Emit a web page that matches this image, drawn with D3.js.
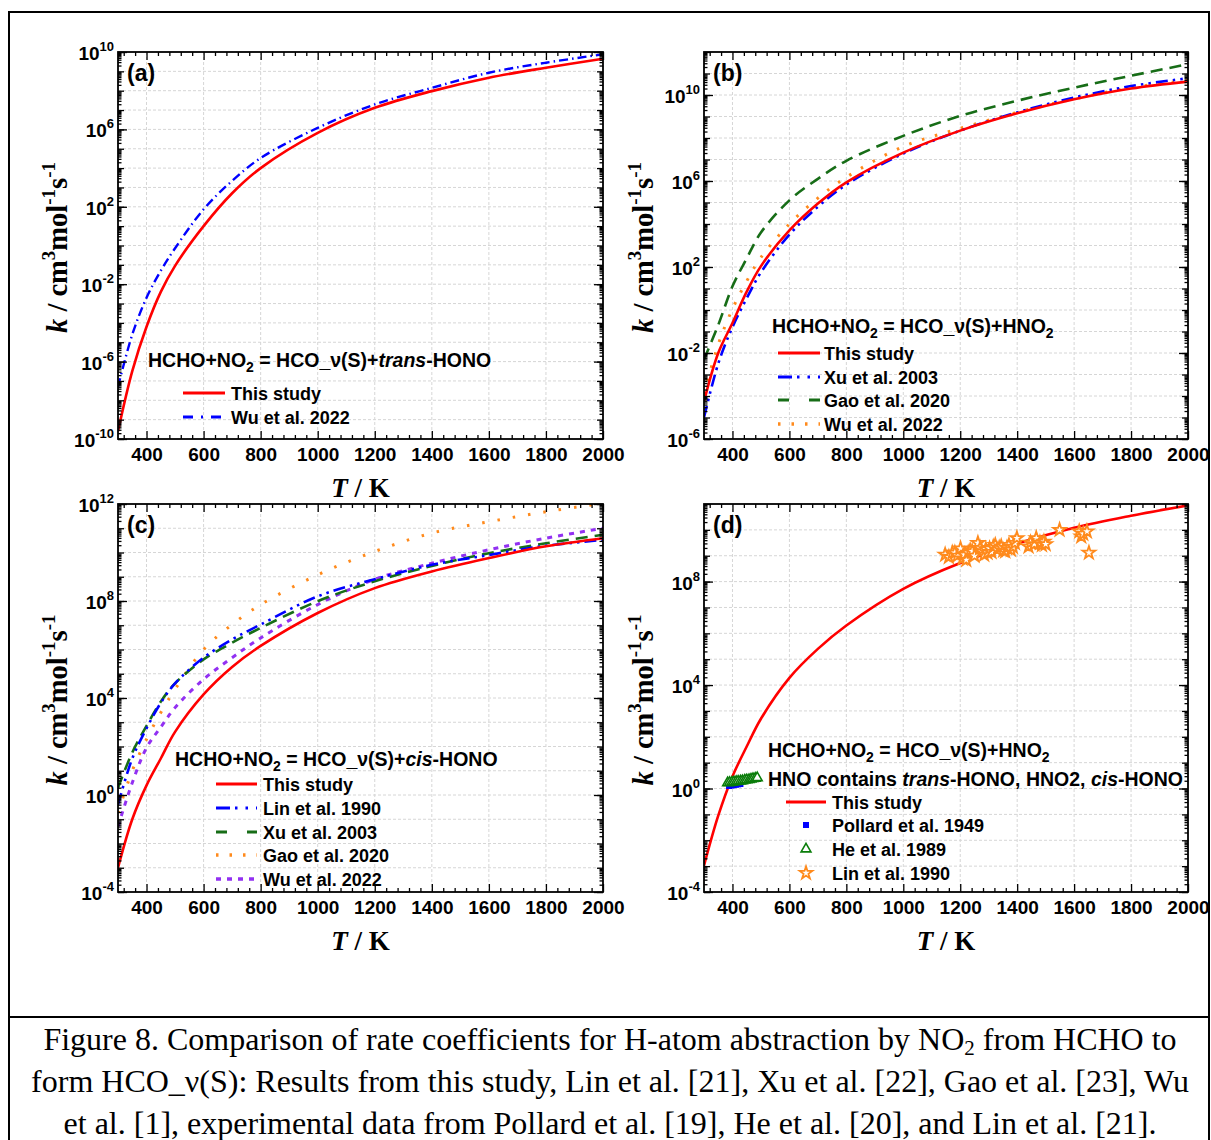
<!DOCTYPE html>
<html>
<head>
<meta charset="utf-8">
<script src="https://cdn.jsdelivr.net/npm/d3@7"></script>
<style>
  html, body { margin: 0; padding: 0; background: #fff; }
  svg { display: block; }
</style>
</head>
<body>
<svg id="fig" width="1211" height="1140"></svg>
<script>
// ---------------- data: k in cm^3 mol^-1 s^-1 versus T / K ----------------
const temps = [300, 350, 400, 450, 500, 600, 700, 800, 1000, 1200, 1400, 1600, 1800, 2000];

// (a) HCHO + NO2 -> HCO_v(S) + trans-HONO
const transThisStudy = [2.5e-10, 3.2e-7, 6.3e-5, 4.0e-3, 8.9e-2, 10, 5.0e2, 1.0e4, 6.6e5, 1.3e7, 9.5e7, 4.7e8, 1.55e9, 4.5e9];
const transWu2022    = [5.0e-8, 2.5e-5, 2.0e-3, 5.0e-2, 0.72, 74, 2.2e3, 3.3e4, 1.2e6, 1.95e7, 1.4e8, 8.5e8, 2.8e9, 7.6e9];

// (b) HCHO + NO2 -> HCO_v(S) + HNO2
const hno2ThisStudy = [5.6e-5, 1.0e-2, 0.25, 7.1, 1.1e2, 5.0e3, 8.9e4, 8.7e5, 2.1e7, 2.2e8, 1.4e9, 6.3e9, 2.0e10, 4.2e10];
const hno2Xu2003    = [1.0e-5, 3.2e-3, 0.16, 3.5, 56, 3.2e3, 6.3e4, 6.8e5, 1.9e7, 2.2e8, 1.55e9, 7.6e9, 2.6e10, 6.0e10];
const hno2Gao2020   = [5.0e-3, 0.2, 12.6, 2.5e2, 4.0e3, 1.26e5, 1.26e6, 8.7e6, 1.26e8, 1.07e9, 5.4e9, 2.2e10, 7.9e10, 2.7e11];
const hno2Wu2022    = [1.26e-4, 2.5e-2, 1.12, 22, 2.8e2, 1.0e4, 1.6e5, 1.5e6, 4.0e7, 2.8e8, 1.55e9, 6.6e9, 2.2e10, 4.8e10];

// (c) HCHO + NO2 -> HCO_v(S) + cis-HONO
const cisThisStudy = [1.0e-3, 0.1, 2.5, 32, 4.0e2, 1.4e4, 1.9e5, 1.4e6, 3.2e7, 3.4e8, 1.66e9, 5.9e9, 1.8e10, 3.9e10];
const cisLin1990   = [0.4, 32, 5.6e2, 6.3e3, 4.0e4, 4.6e5, 2.6e6, 1.07e7, 1.55e8, 7.9e8, 3.1e9, 7.9e9, 1.9e10, 3.3e10];
const cisXu2003    = [2.0, 56, 7.1e2, 7.1e3, 4.0e4, 3.9e5, 1.9e6, 7.8e6, 9.8e7, 6.5e8, 2.8e9, 9.3e9, 2.4e10, 5.4e10];
const cisGao2020   = [0.18, 10, 2.0e2, 2.5e3, 2.3e4, 1.0e6, 1.07e7, 7.1e7, 1.2e9, 1.1e10, 6.3e10, 1.86e11, 4.8e11, 1.07e12];
const cisWu2022    = [5.0e-2, 3.2, 89, 6.3e2, 4.0e3, 5.9e4, 4.6e5, 3.0e6, 7.1e7, 7.9e8, 3.6e9, 1.3e10, 3.9e10, 1.0e11];

// (d) total HCO_v(S) + HNO channel and experiments
const totalThisStudy = [1.05e-3, 8.9e-2, 2.95, 42, 5.0e2, 1.9e4, 2.5e5, 2.0e6, 5.2e7, 5.2e8, 2.95e9, 1.2e10, 3.5e10, 8.9e10];

const pollardT = [388, 396, 404, 412, 420, 428];
const pollardK = [1.25, 1.3, 1.35, 1.4, 1.45, 1.5];

const heT = [383, 390, 398, 405, 413, 420, 428, 435, 443, 450, 458, 465, 472, 480, 487];
const heK = [1.66, 1.7, 1.74, 1.8, 1.86, 1.9, 1.95, 2.0, 2.1, 2.15, 2.2, 2.3, 2.4, 2.5, 2.6];

const linT = [1147, 1160, 1172, 1181, 1190, 1201, 1208, 1214, 1221, 1228, 1235, 1242, 1250, 1262, 1270, 1276,
              1284, 1290, 1296, 1303, 1310, 1316, 1323, 1330, 1337, 1344, 1351, 1358, 1364, 1371, 1378, 1385,
              1392, 1399, 1440, 1447, 1460, 1467, 1480, 1487, 1494, 1500, 1549, 1618, 1625, 1632, 1645, 1652];
const linK = [1.1e9, 8.9e8, 1.3e9, 1.3e9, 1.0e9, 1.9e9, 7.9e8, 1.1e9, 6.9e8, 1.3e9, 1.6e9, 1.5e9, 1.0e9, 3.1e9, 2.0e9, 1.5e9,
              1.1e9, 1.8e9, 1.3e9, 1.9e9, 1.4e9, 2.2e9, 2.6e9, 1.7e9, 2.0e9, 2.3e9, 1.6e9, 1.5e9, 2.0e9, 2.6e9, 1.7e9, 2.2e9,
              3.1e9, 4.8e9, 2.3e9, 3.2e9, 2.8e9, 4.8e9, 3.2e9, 2.6e9, 3.5e9, 2.8e9, 1.0e10, 8.7e9, 5.5e9, 7.1e9, 8.7e9, 1.3e9];

// axis tick values
const tLabels   = [400, 600, 800, 1000, 1200, 1400, 1600, 1800, 2000];
const tGrid     = [400, 600, 800, 1000, 1200, 1400, 1600, 1800];
const tMinor    = d3.range(320, 2000, 40).filter(t => t % 200 !== 0);
const aExpLabels = [-10, -6, -2, 2, 6, 10];
const bExpLabels = [-6, -2, 2, 6, 10];
const cExpLabels = [-4, 0, 4, 8, 12];
const dExpLabels = [-4, 0, 4, 8];

// ---------------- styles ----------------
const RED = "#ff0000", BLUE = "#0000ff", GREEN = "#176d17", ORANGE = "#ff8a1c", PURPLE = "#9230f2";
const SANS = "'Liberation Sans', Arial, sans-serif";
const SERIF = "'Liberation Serif', 'Times New Roman', serif";

const styles = {
  solid:   { color: RED,    width: 2.6, dash: null },
  wuA:     { color: BLUE,   width: 2.4, dash: "9,4,1.5,4" },
  xuB:     { color: BLUE,   width: 2.6, dash: "12,5,2.5,5,2.5,5" },
  gaoB:    { color: GREEN,  width: 2.6, dash: "12,7" },
  wuB:     { color: ORANGE, width: 3.0, dash: "2.5,11" },
  linC:    { color: BLUE,   width: 2.6, dash: "12,5,2.5,5,2.5,5" },
  xuC:     { color: GREEN,  width: 2.6, dash: "12,7" },
  gaoC:    { color: ORANGE, width: 3.0, dash: "2.5,13" },
  wuC:     { color: PURPLE, width: 3.0, dash: "5,6" }
};

const svg = d3.select("#fig");
svg.append("rect").attr("width", 1211).attr("height", 1140).attr("fill", "#fff");

// outer frame and caption separator
svg.append("path")
  .attr("d", "M9,1140 V12 H1209 V1140 M9,1017 H1209")
  .attr("fill", "none").attr("stroke", "#000").attr("stroke-width", 2);

let clipCount = 0;

function drawPanel(cfg) {
  const g = svg.append("g");
  const x = d3.scaleLinear().domain([300, 2000]).range([cfg.left, cfg.right]);
  const y = d3.scaleLog().domain(cfg.yDomain).range([cfg.bottom, cfg.top]);
  const e0 = Math.round(Math.log10(cfg.yDomain[0])), e1 = Math.round(Math.log10(cfg.yDomain[1]));
  const decades = d3.range(e0, e1 + 1).map(e => Math.pow(10, e));
  const minorY = [];
  for (let e = e0; e < e1; e++) for (let m = 2; m <= 9; m++) minorY.push(m * Math.pow(10, e));
  const labelVals = cfg.expLabels.map(e => Math.pow(10, e));

  // grid
  const grid = g.append("g").attr("stroke", "#d6d6d6").attr("stroke-width", 1).attr("stroke-dasharray", "3,2");
  grid.selectAll("line.gx").data(tGrid).join("line")
    .attr("x1", d => x(d)).attr("x2", d => x(d)).attr("y1", cfg.top).attr("y2", cfg.bottom);
  grid.selectAll("line.gy").data(decades.slice(1, -1)).join("line")
    .attr("y1", d => y(d)).attr("y2", d => y(d)).attr("x1", cfg.left).attr("x2", cfg.right);

  // clipping for the data
  const cid = "clip" + (clipCount++);
  g.append("clipPath").attr("id", cid).append("rect")
    .attr("x", cfg.left).attr("y", cfg.top).attr("width", cfg.right - cfg.left).attr("height", cfg.bottom - cfg.top);
  const data = g.append("g").attr("clip-path", `url(#${cid})`);

  const line = d3.line().x(d => x(d[0])).y(d => y(d[1])).curve(d3.curveCatmullRom.alpha(0.5));
  cfg.series.forEach(s => {
    const st = styles[s.style];
    data.append("path")
      .attr("d", line(temps.map((t, i) => [t, s.values[i]])))
      .attr("fill", "none").attr("stroke", st.color).attr("stroke-width", st.width)
      .attr("stroke-dasharray", st.dash);
  });
  (cfg.points || []).forEach(p => {
    data.selectAll(null).data(p.T.map((t, i) => [t, p.K[i]])).join("path")
      .attr("transform", d => `translate(${x(d[0])},${y(d[1])})`)
      .attr("d", d3.symbol(p.symbol, p.size)())
      .attr("fill", p.fill).attr("stroke", p.stroke).attr("stroke-width", p.sw);
  });

  // axes: ticks point inward on all four sides
  const clean = sel => { sel.select(".domain").remove(); sel.selectAll("line").attr("stroke", "#000").attr("stroke-width", 1.3); };
  const bottomAx = g.append("g").attr("transform", `translate(0,${cfg.bottom})`)
    .call(d3.axisBottom(x).tickValues(tLabels).tickSize(-8).tickPadding(9).tickFormat(d3.format("d")));
  clean(bottomAx);
  bottomAx.selectAll("text").attr("font-family", SANS).attr("font-weight", "bold").attr("font-size", 19).attr("fill", "#000");
  clean(g.append("g").attr("transform", `translate(0,${cfg.bottom})`)
    .call(d3.axisBottom(x).tickValues(tMinor).tickSize(-4).tickFormat("")));
  clean(g.append("g").attr("transform", `translate(0,${cfg.top})`)
    .call(d3.axisTop(x).tickValues(tLabels).tickSize(-8).tickFormat("")));
  clean(g.append("g").attr("transform", `translate(0,${cfg.top})`)
    .call(d3.axisTop(x).tickValues(tMinor).tickSize(-4).tickFormat("")));
  [[d3.axisLeft, cfg.left], [d3.axisRight, cfg.right]].forEach(([ax, pos]) => {
    clean(g.append("g").attr("transform", `translate(${pos},0)`).call(ax(y).tickValues(labelVals).tickSize(-9).tickFormat("")));
    clean(g.append("g").attr("transform", `translate(${pos},0)`).call(ax(y).tickValues(decades).tickSize(-6).tickFormat("")));
    clean(g.append("g").attr("transform", `translate(${pos},0)`).call(ax(y).tickValues(minorY).tickSize(-3.5).tickFormat("")));
  });

  // log tick labels 10^n
  const yl = g.append("g").attr("font-family", SANS).attr("font-weight", "bold").attr("fill", "#000");
  cfg.expLabels.forEach(e => {
    const t = yl.append("text").attr("x", cfg.left - 4).attr("y", y(Math.pow(10, e)) + 8)
      .attr("text-anchor", "end").attr("font-size", 19);
    t.append("tspan").text("10");
    t.append("tspan").attr("font-size", 13).attr("dy", -9).text(String(e));
  });

  // frame
  g.append("rect").attr("x", cfg.left).attr("y", cfg.top)
    .attr("width", cfg.right - cfg.left).attr("height", cfg.bottom - cfg.top)
    .attr("fill", "none").attr("stroke", "#000").attr("stroke-width", 1.8);

  // panel tag
  g.append("text").attr("x", cfg.left + 9).attr("y", cfg.top + 29)
    .attr("font-family", SANS).attr("font-weight", "bold").attr("font-size", 23).text(cfg.tag);

  // axis titles
  const yt = g.append("text")
    .attr("transform", `translate(${cfg.left - 51},${(cfg.top + cfg.bottom) / 2 + 2}) rotate(-90)`)
    .attr("text-anchor", "middle").attr("font-family", SERIF).attr("font-weight", "bold").attr("font-size", 28.5);
  yt.append("tspan").attr("font-style", "italic").text("k");
  yt.append("tspan").text(" / cm");
  yt.append("tspan").attr("font-size", 19).attr("dy", -12).text("3");
  yt.append("tspan").attr("dy", 12).text("mol");
  yt.append("tspan").attr("font-size", 19).attr("dy", -12).text("-1");
  yt.append("tspan").attr("dy", 12).text("s");
  yt.append("tspan").attr("font-size", 19).attr("dy", -12).text("-1");

  const xt = g.append("text").attr("x", (cfg.left + cfg.right) / 2).attr("y", cfg.bottom + 58)
    .attr("text-anchor", "middle").attr("font-family", SERIF).attr("font-weight", "bold").attr("font-size", 27);
  xt.append("tspan").attr("font-style", "italic").text("T");
  xt.append("tspan").text(" / K");

  // legend
  const lg = g.append("g").attr("font-family", SANS).attr("font-weight", "bold").attr("fill", "#000");
  cfg.titles.forEach(tt => {
    const t = lg.append("text").attr("x", tt.x).attr("y", tt.y).attr("font-size", 19.5);
    tt.parts.forEach(p => {
      const sp = t.append("tspan").text(p.s);
      if (p.sub) sp.attr("font-size", 14).attr("dy", 5);
      if (p.after) sp.attr("dy", -5);
      if (p.it) sp.attr("font-style", "italic");
    });
  });
  cfg.legend.forEach(L => {
    if (L.style) {
      const st = styles[L.style];
      lg.append("line").attr("x1", L.x0).attr("x2", L.x1).attr("y1", L.y).attr("y2", L.y)
        .attr("stroke", st.color).attr("stroke-width", st.width + 0.4)
        .attr("stroke-dasharray", L.dash || st.dash);
    } else {
      lg.append("path").attr("transform", `translate(${L.mx},${L.y})`)
        .attr("d", d3.symbol(L.symbol, L.size)())
        .attr("fill", L.fill).attr("stroke", L.stroke).attr("stroke-width", L.sw);
    }
    lg.append("text").attr("x", L.tx).attr("y", L.y + 6.5).attr("font-size", 18).text(L.label);
  });
}

const channelTitle = (x, y, tail) => ({ x, y, parts: [
  { s: "HCHO+NO" }, { s: "2", sub: true }, { s: " = HCO_ν(S)+", after: true }, ...tail ] });

// (a)
drawPanel({
  tag: "(a)", left: 118, right: 603, top: 52, bottom: 439, yDomain: [1e-10, 1e10], expLabels: aExpLabels,
  series: [ { values: transWu2022, style: "wuA" }, { values: transThisStudy, style: "solid" } ],
  titles: [ channelTitle(148, 367, [{ s: "trans", it: true }, { s: "-HONO" }]) ],
  legend: [
    { style: "solid", x0: 183, x1: 225, y: 393, tx: 231, label: "This study" },
    { style: "wuA",   x0: 183, x1: 225, y: 417, tx: 231, label: "Wu et al. 2022", dash: "10,8,2,8" }
  ]
});

// (b)
drawPanel({
  tag: "(b)", left: 704, right: 1188, top: 52, bottom: 439, yDomain: [1e-6, 1e12], expLabels: bExpLabels,
  series: [ { values: hno2Gao2020, style: "gaoB" }, { values: hno2Wu2022, style: "wuB" },
            { values: hno2Xu2003, style: "xuB" }, { values: hno2ThisStudy, style: "solid" } ],
  titles: [ channelTitle(772, 333, [{ s: "HNO" }, { s: "2", sub: true }]) ],
  legend: [
    { style: "solid", x0: 778, x1: 820, y: 353, tx: 824, label: "This study" },
    { style: "xuB",   x0: 778, x1: 820, y: 377, tx: 824, label: "Xu et al. 2003", dash: "14,5,2.5,8,2.5,8" },
    { style: "gaoB",  x0: 778, x1: 820, y: 400, tx: 824, label: "Gao et al. 2020", dash: "11,20" },
    { style: "wuB",   x0: 778, x1: 820, y: 424, tx: 824, label: "Wu et al. 2022", dash: "2.5,11" }
  ]
});

// (c)
drawPanel({
  tag: "(c)", left: 118, right: 603, top: 504, bottom: 892, yDomain: [1e-4, 1e12], expLabels: cExpLabels,
  series: [ { values: cisGao2020, style: "gaoC" }, { values: cisWu2022, style: "wuC" },
            { values: cisXu2003, style: "xuC" }, { values: cisLin1990, style: "linC" },
            { values: cisThisStudy, style: "solid" } ],
  titles: [ channelTitle(175, 766, [{ s: "cis", it: true }, { s: "-HONO" }]) ],
  legend: [
    { style: "solid", x0: 216, x1: 257, y: 784, tx: 263, label: "This study" },
    { style: "linC",  x0: 216, x1: 257, y: 808, tx: 263, label: "Lin et al. 1990", dash: "14,5,2.5,8,2.5,8" },
    { style: "xuC",   x0: 216, x1: 257, y: 832, tx: 263, label: "Xu et al. 2003", dash: "11,20" },
    { style: "gaoC",  x0: 216, x1: 257, y: 855, tx: 263, label: "Gao et al. 2020", dash: "2.5,11" },
    { style: "wuC",   x0: 216, x1: 257, y: 879, tx: 263, label: "Wu et al. 2022" }
  ]
});

// (d)
drawPanel({
  tag: "(d)", left: 704, right: 1188, top: 504, bottom: 892, yDomain: [1e-4, 1e11], expLabels: dExpLabels,
  series: [ { values: totalThisStudy, style: "solid" } ],
  points: [
    { T: pollardT, K: pollardK, symbol: d3.symbolSquare, size: 36, fill: BLUE, stroke: "none", sw: 0 },
    { T: heT, K: heK, symbol: d3.symbolTriangle, size: 42, fill: "#fff", stroke: "#0a7d0a", sw: 1.6 },
    { T: linT, K: linK, symbol: d3.symbolStar, size: 50, fill: "#fff", stroke: ORANGE, sw: 1.8 }
  ],
  titles: [
    channelTitle(768, 757, [{ s: "HNO" }, { s: "2", sub: true }]),
    { x: 768, y: 786, parts: [ { s: "HNO contains " }, { s: "trans", it: true }, { s: "-HONO, HNO2, " },
                               { s: "cis", it: true }, { s: "-HONO" } ] }
  ],
  legend: [
    { style: "solid", x0: 786, x1: 826, y: 802, tx: 832, label: "This study" },
    { symbol: d3.symbolSquare, size: 36, fill: BLUE, stroke: "none", sw: 0, mx: 806, y: 825, tx: 832, label: "Pollard et al. 1949" },
    { symbol: d3.symbolTriangle, size: 42, fill: "#fff", stroke: "#0a7d0a", sw: 1.6, mx: 806, y: 849, tx: 832, label: "He et al. 1989" },
    { symbol: d3.symbolStar, size: 50, fill: "#fff", stroke: ORANGE, sw: 1.8, mx: 806, y: 873, tx: 832, label: "Lin et al. 1990" }
  ]
});

// caption
const cap = svg.append("g").attr("font-family", SERIF).attr("font-size", 32).attr("text-anchor", "middle").attr("fill", "#000");
const c1 = cap.append("text").attr("x", 610).attr("y", 1050);
c1.append("tspan").text("Figure 8. Comparison of rate coefficients for H-atom abstraction by NO");
c1.append("tspan").attr("font-size", 21).attr("dy", 5).text("2");
c1.append("tspan").attr("dy", -5).text(" from HCHO to");
cap.append("text").attr("x", 610).attr("y", 1092)
  .text("form HCO_ν(S): Results from this study, Lin et al. [21], Xu et al. [22], Gao et al. [23], Wu");
cap.append("text").attr("x", 610).attr("y", 1134)
  .text("et al. [1], experimental data from Pollard et al. [19], He et al. [20], and Lin et al. [21].");
</script>
</body>
</html>
